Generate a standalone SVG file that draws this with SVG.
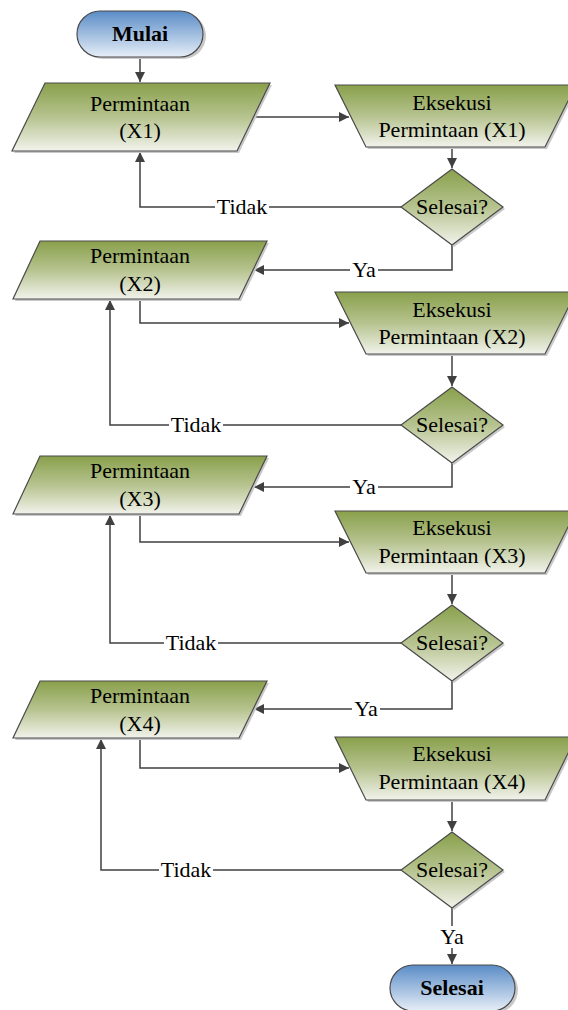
<svg xmlns="http://www.w3.org/2000/svg" width="568" height="1010" viewBox="0 0 568 1010">
<style>
text{font-family:"Liberation Serif","Times New Roman",serif;font-size:22px;fill:#000;text-anchor:middle}
.b{font-weight:bold}
.sh{fill:#c9c9c9;stroke:none}
.g{fill:url(#gg);stroke:#4a4a4a;stroke-width:1.2}
.bl{fill:url(#bg);stroke:#4a4a4a;stroke-width:1.2}
.c{fill:none;stroke:#404040;stroke-width:1.5}
.lb{fill:#fff;stroke:none}
</style>
<defs>
<linearGradient id="gg" x1="0" y1="0" x2="0" y2="1">
<stop offset="0" stop-color="#89a04b"/>
<stop offset="0.5" stop-color="#b6c38f"/>
<stop offset="1" stop-color="#f2f3ec"/>
</linearGradient>
<linearGradient id="bg" x1="0" y1="0" x2="0" y2="1">
<stop offset="0" stop-color="#5a8cc7"/>
<stop offset="1" stop-color="#e6eef7"/>
</linearGradient>
<marker id="ah" viewBox="0 0 10 10" refX="10" refY="5" markerWidth="11" markerHeight="10" orient="auto" markerUnits="userSpaceOnUse">
<path d="M0,0 L10,5 L0,10 z" fill="#404040"/>
</marker>
</defs>

<g id="connectors">
<path class="c" d="M140,57 V82" marker-end="url(#ah)"/>
<path class="c" d="M254,117 H349" marker-end="url(#ah)"/>
<path class="c" d="M452,147 V168" marker-end="url(#ah)"/>
<path class="c" d="M401,207 H140 V152" marker-end="url(#ah)"/>
<path class="c" d="M452,245 V270 H254" marker-end="url(#ah)"/>
<path class="c" d="M140,299 V323 H349" marker-end="url(#ah)"/>
<path class="c" d="M452,354 V386" marker-end="url(#ah)"/>
<path class="c" d="M401,425 H110 V300" marker-end="url(#ah)"/>
<path class="c" d="M452,463 V487 H254" marker-end="url(#ah)"/>
<path class="c" d="M140,514 V542 H349" marker-end="url(#ah)"/>
<path class="c" d="M452,573 V604" marker-end="url(#ah)"/>
<path class="c" d="M401,643 H110 V515" marker-end="url(#ah)"/>
<path class="c" d="M452,681 V709 H254" marker-end="url(#ah)"/>
<path class="c" d="M140,738 V768 H349" marker-end="url(#ah)"/>
<path class="c" d="M452,800 V831" marker-end="url(#ah)"/>
<path class="c" d="M401,870 H101 V739" marker-end="url(#ah)"/>
<path class="c" d="M452,908 V964" marker-end="url(#ah)"/>
<rect class="lb" x="215" y="197" width="54" height="20"/>
<text x="242" y="214">Tidak</text>
<rect class="lb" x="350" y="260" width="28" height="20"/>
<text x="364" y="277">Ya</text>
<rect class="lb" x="169" y="415" width="54" height="20"/>
<text x="196" y="432">Tidak</text>
<rect class="lb" x="350" y="477" width="28" height="20"/>
<text x="364" y="494">Ya</text>
<rect class="lb" x="164" y="633" width="54" height="20"/>
<text x="191" y="650">Tidak</text>
<rect class="lb" x="352" y="699" width="28" height="20"/>
<text x="366" y="716">Ya</text>
<rect class="lb" x="159" y="860" width="54" height="20"/>
<text x="186" y="877">Tidak</text>
<rect class="lb" x="438" y="926" width="28" height="22"/>
<text x="452" y="944">Ya</text>
</g>

<g id="mulai">
<rect class="sh" x="80" y="13" width="126" height="46" rx="23"/>
<rect class="bl" x="77" y="11" width="126" height="46" rx="23"/>
<text class="b" x="140" y="41">Mulai</text>
</g>

<g id="permintaan-x1">
<polygon class="sh" points="47,85 272,85 239,153 14,153"/>
<polygon class="g" points="45,83 270,83 237,151 12,151"/>
<text x="140" y="111">Permintaan</text>
<text x="140" y="138">(X1)</text>
</g>
<g id="eksekusi-x1">
<polygon class="sh" points="337,87 578,87 547,149 368,149"/>
<polygon class="g" points="335,85 576,85 545,147 366,147"/>
<text x="452" y="110">Eksekusi</text>
<text x="452" y="137">Permintaan (X1)</text>
</g>
<g id="selesai-1">
<polygon class="sh" points="454,171 505,209 454,247 403,209"/>
<polygon class="g" points="452,169 503,207 452,245 401,207"/>
<text x="452" y="214">Selesai?</text>
</g>

<g id="permintaan-x2">
<polygon class="sh" points="42,243 269,243 241,301 15,301"/>
<polygon class="g" points="40,241 267,241 239,299 13,299"/>
<text x="140" y="263">Permintaan</text>
<text x="140" y="291">(X2)</text>
</g>
<g id="eksekusi-x2">
<polygon class="sh" points="337,294 578,294 547,356 368,356"/>
<polygon class="g" points="335,292 576,292 545,354 366,354"/>
<text x="452" y="317">Eksekusi</text>
<text x="452" y="344">Permintaan (X2)</text>
</g>
<g id="selesai-2">
<polygon class="sh" points="454,389 505,427 454,465 403,427"/>
<polygon class="g" points="452,387 503,425 452,463 401,425"/>
<text x="452" y="432">Selesai?</text>
</g>

<g id="permintaan-x3">
<polygon class="sh" points="42,458 269,458 241,516 15,516"/>
<polygon class="g" points="40,456 267,456 239,514 13,514"/>
<text x="140" y="478">Permintaan</text>
<text x="140" y="506">(X3)</text>
</g>
<g id="eksekusi-x3">
<polygon class="sh" points="337,513 578,513 547,575 368,575"/>
<polygon class="g" points="335,511 576,511 545,573 366,573"/>
<text x="452" y="535">Eksekusi</text>
<text x="452" y="563">Permintaan (X3)</text>
</g>
<g id="selesai-3">
<polygon class="sh" points="454,607 505,645 454,683 403,645"/>
<polygon class="g" points="452,605 503,643 452,681 401,643"/>
<text x="452" y="650">Selesai?</text>
</g>

<g id="permintaan-x4">
<polygon class="sh" points="42,683 269,683 241,740 15,740"/>
<polygon class="g" points="40,681 267,681 239,738 13,738"/>
<text x="140" y="703">Permintaan</text>
<text x="140" y="731">(X4)</text>
</g>
<g id="eksekusi-x4">
<polygon class="sh" points="337,739 578,739 547,802 368,802"/>
<polygon class="g" points="335,737 576,737 545,800 366,800"/>
<text x="452" y="761">Eksekusi</text>
<text x="452" y="789">Permintaan (X4)</text>
</g>
<g id="selesai-4">
<polygon class="sh" points="454,834 505,872 454,910 403,872"/>
<polygon class="g" points="452,832 503,870 452,908 401,870"/>
<text x="452" y="877">Selesai?</text>
</g>

<g id="selesai">
<rect class="sh" x="393" y="967" width="125" height="46" rx="23"/>
<rect class="bl" x="390" y="965" width="125" height="46" rx="23"/>
<text class="b" x="452" y="995">Selesai</text>
</g>
</svg>
